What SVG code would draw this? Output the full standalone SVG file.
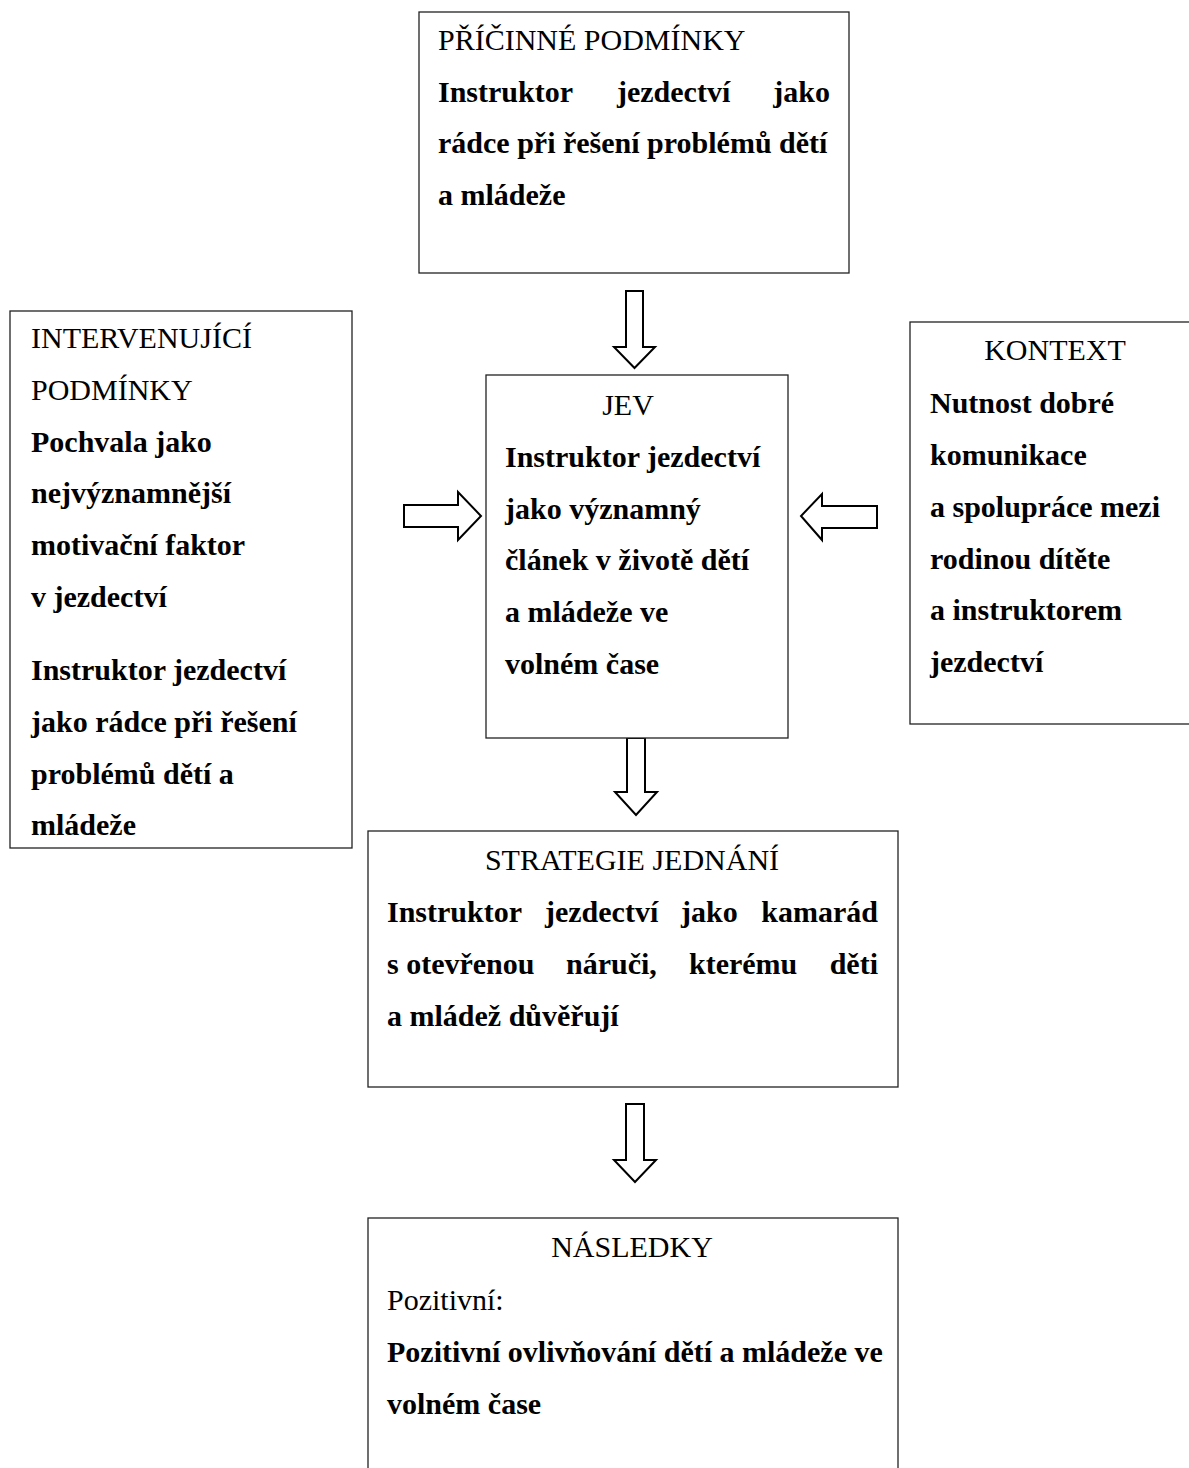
<svg xmlns="http://www.w3.org/2000/svg" width="1189" height="1468" viewBox="0 0 1189 1468">
<style>
.box{fill:#fff;stroke:#222;stroke-width:1.3}
.arr{fill:#fff;stroke:#000;stroke-width:2;stroke-linejoin:miter}
text{font-family:"Liberation Serif","Times New Roman",serif;font-size:30px;fill:#000}
.b{font-weight:bold}
.c{text-anchor:middle}
.e{text-anchor:end}
</style>
<rect width="1189" height="1468" fill="#fff"/>
<g id="connectors">
<polygon class="arr" points="626,291 643,291 643,347 655,347 634.5,368 614,347 626,347"/>
<polygon class="arr" points="404,505 458,505 458,492 481,516 458,540 458,527 404,527"/>
<polygon class="arr" points="877,506 822,506 822,494 801,516 822,540 822,528 877,528"/>
<polygon class="arr" points="627,738 645,738 645,792 657,792 636,815 615,792 627,792"/>
<polygon class="arr" points="626,1104 644,1104 644,1160 656,1160 635,1182 614,1160 626,1160"/>
</g>
<g id="pricinne">
<rect class="box" x="419" y="12" width="430" height="261"/>
<text x="438" y="50">PŘÍČINNÉ PODMÍNKY</text>
<text class="b" x="438" y="102">Instruktor</text>
<text class="b" x="617" y="102">jezdectví</text>
<text class="b e" x="830" y="102">jako</text>
<text class="b" x="438" y="153">rádce při řešení problémů dětí</text>
<text class="b" x="438" y="205">a mládeže</text>
</g>
<g id="intervenujici">
<rect class="box" x="10" y="311" width="342" height="537"/>
<text x="31" y="348">INTERVENUJÍCÍ</text>
<text x="31" y="400">PODMÍNKY</text>
<text class="b" x="31" y="452">Pochvala jako</text>
<text class="b" x="31" y="503">nejvýznamnější</text>
<text class="b" x="31" y="555">motivační faktor</text>
<text class="b" x="31" y="607">v jezdectví</text>
<text class="b" x="31" y="680">Instruktor jezdectví</text>
<text class="b" x="31" y="732">jako rádce při řešení</text>
<text class="b" x="31" y="784">problémů dětí a</text>
<text class="b" x="31" y="835">mládeže</text>
</g>
<g id="jev">
<rect class="box" x="486" y="375" width="302" height="363"/>
<text class="c" x="628" y="415">JEV</text>
<text class="b" x="505" y="467">Instruktor jezdectví</text>
<text class="b" x="505" y="519">jako významný</text>
<text class="b" x="505" y="570">článek v životě dětí</text>
<text class="b" x="505" y="622">a mládeže ve</text>
<text class="b" x="505" y="674">volném čase</text>
</g>
<g id="kontext">
<rect class="box" x="910" y="322" width="300" height="402"/>
<text class="c" x="1055" y="360">KONTEXT</text>
<text class="b" x="930" y="413">Nutnost dobré</text>
<text class="b" x="930" y="465">komunikace</text>
<text class="b" x="930" y="517">a spolupráce mezi</text>
<text class="b" x="930" y="569">rodinou dítěte</text>
<text class="b" x="930" y="620">a instruktorem</text>
<text class="b" x="930" y="672">jezdectví</text>
</g>
<g id="strategie">
<rect class="box" x="368" y="831" width="530" height="256"/>
<text class="c" x="632" y="870">STRATEGIE JEDNÁNÍ</text>
<text class="b" x="387" y="922">Instruktor</text>
<text class="b" x="545" y="922">jezdectví</text>
<text class="b" x="681" y="922">jako</text>
<text class="b e" x="878" y="922">kamarád</text>
<text class="b" x="387" y="974">s otevřenou</text>
<text class="b" x="566" y="974">náruči,</text>
<text class="b" x="689" y="974">kterému</text>
<text class="b e" x="878" y="974">děti</text>
<text class="b" x="387" y="1026">a mládež důvěřují</text>
</g>
<g id="nasledky">
<rect class="box" x="368" y="1218" width="530" height="300"/>
<text class="c" x="632" y="1257">NÁSLEDKY</text>
<text x="387" y="1310">Pozitivní:</text>
<text class="b" x="387" y="1362">Pozitivní ovlivňování dětí a mládeže ve</text>
<text class="b" x="387" y="1414">volném čase</text>
</g>
</svg>
